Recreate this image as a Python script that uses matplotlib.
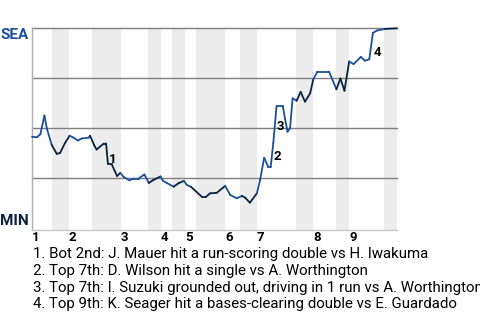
import numpy as np
import matplotlib.pyplot as plt
from matplotlib.collections import LineCollection

plt.rcParams['font.family'] = ['Roboto', 'DejaVu Sans']

# Probabilidade de vitória do SEA (%) ao longo das jogadas
play = [0.0, 1.3, 2.3, 3.4, 4.1, 5.4, 6.8, 7.7, 9.0, 10.3,
        11.3, 12.6, 13.6, 15.5, 15.9, 17.0, 17.7, 18.6, 19.7, 20.3,
        20.8, 21.8, 22.6, 23.3, 24.2, 25.1, 26.7, 27.8, 29.2, 30.8,
        32.0, 33.3, 35.2, 35.9, 36.9, 38.8, 40.1, 41.6, 42.4, 43.6,
        46.5, 47.7, 48.8, 50.6, 52.9, 54.3, 56.1, 57.5, 58.4, 59.7,
        61.6, 62.5, 63.6, 64.7, 65.4, 66.1, 67.0, 68.7, 69.3, 70.0,
        70.7, 71.4, 72.5, 73.6, 74.8, 76.2, 77.1, 78.2, 81.4, 83.4,
        84.5, 85.6, 86.9, 88.1, 90.1, 91.2, 92.4, 93.4, 94.5, 96.7,
        100.0]
sea_wp = [45.8, 45.5, 47.0, 56.4, 49.7, 41.7, 37.2, 37.7, 42.5, 46.3,
          45.4, 43.9, 44.9, 45.3, 46.3, 41.7, 39.4, 40.8, 42.4, 42.4,
          32.2, 32.2, 28.9, 26.2, 27.7, 25.7, 24.0, 24.9, 24.9, 26.9,
          22.7, 24.2, 25.9, 23.7, 22.7, 20.8, 22.5, 23.7, 21.7, 20.7,
          15.8, 15.8, 17.5, 17.7, 21.2, 16.7, 15.0, 16.2, 15.3, 12.8,
          17.5, 24.2, 35.3, 30.8, 30.8, 42.5, 61.2, 61.2, 55.0, 48.3,
          50.0, 65.0, 63.8, 68.2, 63.3, 67.5, 74.7, 78.3, 78.3, 69.5,
          74.9, 68.8, 83.4, 82.1, 85.7, 83.8, 84.5, 97.7, 98.9, 99.7,
          100.0]

# início de cada meia-entrada (Top 1, Bot 1, ..., Bot 9) e fim do jogo
half_start = [0.0, 5.5, 10.1, 16.4, 24.4, 31.8, 35.3, 38.4, 41.9, 44.9,
              52.9, 57.0, 61.6, 72.3, 77.0, 83.3, 86.9, 96.4, 100.0]
innings = ['1', '2', '3', '4', '5', '6', '7', '8', '9']

# jogadas em destaque (índice do ponto depois da jogada)
key_idx = [20, 55, 56, 77]
key_text = ['1. Bot 2nd: J. Mauer hit a run-scoring double vs H. Iwakuma',
            '2. Top 7th: D. Wilson hit a single vs A. Worthington',
            '3. Top 7th: I. Suzuki grounded out, driving in 1 run vs A. Worthington',
            '4. Top 9th: K. Seager hit a bases-clearing double vs E. Guardado']
key_offset = [(4.3, -4.3), (3.6, -1.2), (4.0, -1.4), (4.3, -4.3)]

SEA = '#1b4f9c'
MIN = '#0c2340'

fig = plt.figure(figsize=(4.8, 3.2), dpi=100)
ax = fig.add_axes([32/480, 1 - 230/320, 365/480, 201.7/320])
ax.set_xlim(0, 100)
ax.set_ylim(-0.85, 100)

# faixas cinza = parte de baixo das entradas
for k in range(1, len(half_start) - 1, 2):
    ax.axvspan(half_start[k], half_start[k + 1], color='#ececec', lw=0, zorder=0)

for g in [25, 50, 75, 100]:
    ax.axhline(g, color='#7f7f7f', lw=1, zorder=1, clip_on=False)

# linha colorida por meia-entrada
x = np.array(play)
y = np.array(sea_wp)
segs = np.stack([np.column_stack([x[:-1], y[:-1]]), np.column_stack([x[1:], y[1:]])], axis=1)
mids = (x[:-1] + x[1:]) / 2
half = np.searchsorted(half_start, mids, side='right') - 1
cores = [MIN if h % 2 else SEA for h in half]
lc = LineCollection(segs, colors=cores, linewidths=1.3, zorder=3, clip_on=False,
                    capstyle='round', joinstyle='round')
ax.add_collection(lc)

for n, (i, off) in enumerate(zip(key_idx, key_offset), start=1):
    mx = (play[i - 1] + play[i]) / 2
    my = (sea_wp[i - 1] + sea_wp[i]) / 2
    ax.annotate(str(n), xy=(mx, my), xytext=off, textcoords='offset points',
                ha='center', va='center', fontsize=9.5, fontweight='bold', color='black', zorder=4)

for s in ['top', 'right']:
    ax.spines[s].set_visible(False)
ax.spines['left'].set_color('#b0b0b0')
ax.spines['bottom'].set_color('#c8c8c8')
ax.spines['left'].set_linewidth(1)
ax.spines['bottom'].set_linewidth(1)
ax.set_yticks([])
ax.set_xticks(half_start[0:-1:2])
ax.set_xticklabels(innings, ha='left', fontsize=9.5, fontweight='bold')
ax.tick_params(axis='x', length=0, pad=1.0)

fig.text(28.5/480, 1 - 39.3/320, 'SEA', ha='right', va='baseline', fontsize=11, fontweight='bold', color=SEA)
fig.text(28.5/480, 1 - 225/320, 'MIN', ha='right', va='baseline', fontsize=11, fontweight='bold', color=MIN)

for j, t in enumerate(key_text):
    fig.text(33/480, 1 - (258.3 + 16.7*j)/320, t, ha='left', va='baseline', fontsize=10.8, color='black')

fig.savefig('out.png', dpi=100)
